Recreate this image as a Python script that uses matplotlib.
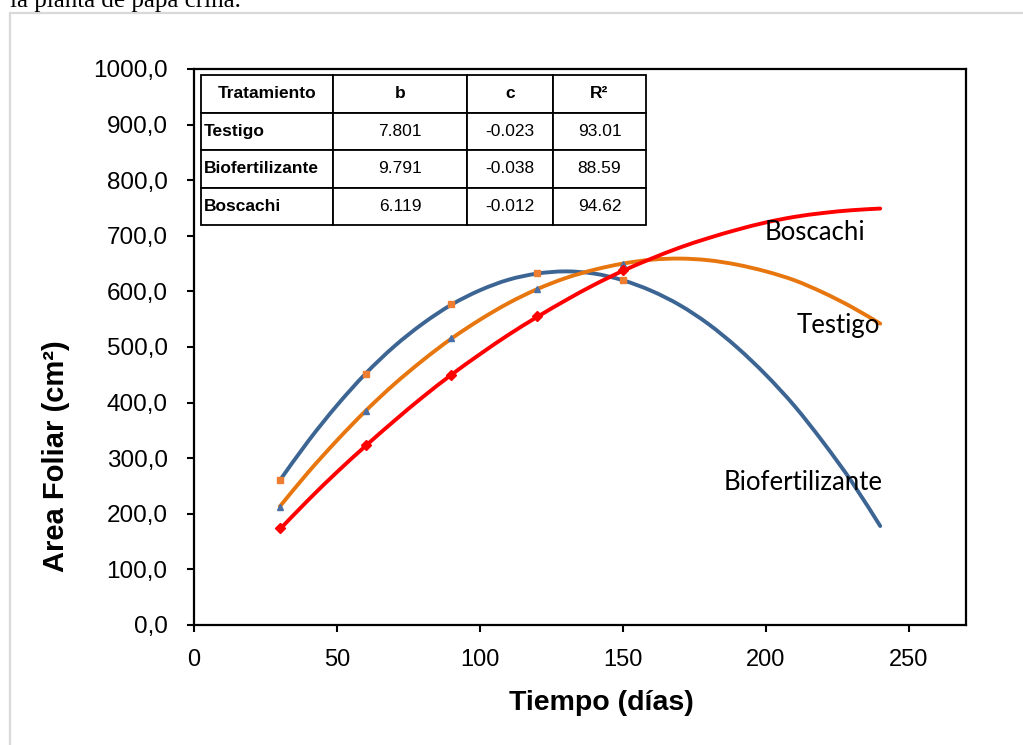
import matplotlib
matplotlib.use("Agg")
import matplotlib.pyplot as plt
from matplotlib import font_manager as fm
from matplotlib.patches import Rectangle, PathPatch
from matplotlib.path import Path

# ---------------- data ----------------
days_obs = [30, 60, 90, 120, 150]
testigo_obs = [213, 384, 516, 604, 649]
biofert_obs = [261, 452, 578, 633, 620]
boscachi_obs = [174, 323, 450, 555, 638]

days_fit = [30, 40, 50, 60, 70, 80, 90, 100, 110, 120, 130, 140, 150,
            160, 170, 180, 190, 200, 210, 220, 230, 240]
biofert_fit = [260, 331, 395, 452, 501, 542, 576, 602, 621, 632, 636, 632, 620,
               601, 575, 541, 499, 450, 394, 329, 258, 178]
testigo_fit = [213, 275, 332, 385, 433, 476, 515, 549, 579, 604, 624, 639, 650,
               657, 659, 656, 648, 636, 620, 598, 572, 542]
boscachi_fit = [172, 225, 275, 322, 367, 410, 450, 487, 522, 554, 584, 612, 637,
                659, 679, 696, 711, 724, 734, 741, 746, 749]

table_cols = ["Tratamiento", "b", "c", "R²"]
table_names = ["Testigo", "Biofertilizante", "Boscachi"]
table_b = ["7.801", "9.791", "6.119"]
table_c = ["-0.023", "-0.038", "-0.012"]
table_r2 = ["93.01", "88.59", "94.62"]

yticks = [0, 100, 200, 300, 400, 500, 600, 700, 800, 900, 1000]
xticks = [0, 50, 100, 150, 200, 250]

# ---------------- fonts ----------------
avail = {f.name for f in fm.fontManager.ttflist}
narrow = "Liberation Sans Narrow" if "Liberation Sans Narrow" in avail else "Liberation Sans"
sans = "Liberation Sans"
label_font = "Lato" if "Lato" in avail else "DejaVu Sans"
serif = "Liberation Serif"

W, H = 1023, 745
fig = plt.figure(figsize=(W / 100, H / 100), dpi=100)

# outer grey frame and cut-off document text
fig.patches.append(Rectangle((10 / W, -0.1), 1.2, 1 - 13 / H + 0.1,
                             transform=fig.transFigure, fill=False,
                             edgecolor="#D9D9D9", linewidth=1.6))
fig.text(10 / W, 1 - 7 / H, "la planta de papa criña.", family=serif,
         fontsize=18, va="baseline", ha="left", color="black")

ax = fig.add_axes([194 / W, (H - 625) / H, 772 / W, 556 / H])
ax.set_xlim(0, 270)
ax.set_ylim(0, 1000)

blue = "#3C6594"
orange = "#E8760F"
red = "#FF0000"


def smooth_line(ax, xs, ys, color, lw, z):
    """Draw a smoothed line (Catmull-Rom as cubic Bezier) through the data points."""
    pts = list(zip(xs, ys))
    verts = [pts[0]]
    codes = [Path.MOVETO]
    n = len(pts)
    for i in range(n - 1):
        p0 = pts[i - 1] if i > 0 else pts[i]
        p1 = pts[i]
        p2 = pts[i + 1]
        p3 = pts[i + 2] if i + 2 < n else pts[i + 1]
        c1 = (p1[0] + (p2[0] - p0[0]) / 6, p1[1] + (p2[1] - p0[1]) / 6)
        c2 = (p2[0] - (p3[0] - p1[0]) / 6, p2[1] - (p3[1] - p1[1]) / 6)
        verts += [c1, c2, p2]
        codes += [Path.CURVE4] * 3
    patch = PathPatch(Path(verts, codes), facecolor="none", edgecolor=color,
                      lw=lw, capstyle="round", joinstyle="round", zorder=z)
    ax.add_patch(patch)


smooth_line(ax, days_fit, biofert_fit, blue, 2.8, 3)
smooth_line(ax, days_fit, testigo_fit, orange, 2.8, 3)
smooth_line(ax, days_fit, boscachi_fit, red, 2.8, 4)

ax.plot(days_obs, biofert_obs, ls="none", marker="s", ms=4.5, color="#ED7D31", zorder=5)
ax.plot(days_obs, testigo_obs, ls="none", marker="^", ms=4.5, color="#4A6FA5", zorder=5)
ax.plot(days_obs, boscachi_obs, ls="none", marker="D", ms=5.5, color=red, zorder=5)

ax.set_xticks(xticks)
ax.set_xticklabels([str(v) for v in xticks], family=sans, fontsize=17)
ax.set_yticks(yticks)
ax.set_yticklabels([f"{v:.1f}".replace(".", ",") for v in yticks], family=sans, fontsize=17.5)
ax.tick_params(axis="x", direction="out", length=5, width=1.5, pad=12)
ax.tick_params(axis="y", direction="out", length=5, width=1.5, pad=14)
for s in ax.spines.values():
    s.set_linewidth(1.6)
    s.set_color("black")

fig.text(601 / W, 1 - 703 / H, "Tiempo (días)", family=sans, weight="bold",
         fontsize=20.5, ha="center", va="center")
fig.text(56 / W, 1 - 456 / H, "Area Foliar (cm²)", family=sans, weight="bold",
         fontsize=21, ha="center", va="center", rotation=90)


def px2data(px, py):
    return ((px - 194) / 772 * 270, (625 - py) / 556 * 1000)


for name, (px, py) in [("Boscachi", (815, 233)), ("Testigo", (838, 326)),
                       ("Biofertilizante", (803, 482))]:
    x, y = px2data(px, py)
    ax.text(x, y, name, family=label_font, fontsize=18.5, ha="center", va="center", zorder=6)

# parameter table
cell_text = [[n, b, c, r] for n, b, c, r in zip(table_names, table_b, table_c, table_r2)]
colw = [132, 134, 86, 93]
tot = sum(colw)
tbl = ax.table(cellText=cell_text, colLabels=table_cols,
               colWidths=[w / tot for w in colw],
               bbox=[(201 - 194) / 772, (625 - 225) / 556, 445 / 772, 150 / 556],
               cellLoc="center")
tbl.auto_set_font_size(False)
for (r, c), cell in tbl.get_celld().items():
    cell.set_linewidth(1.3)
    cell.set_edgecolor("black")
    cell.set_facecolor("white")
    t = cell.get_text()
    t.set_fontfamily(narrow)
    t.set_fontsize(12.5)
    if r == 0 or c == 0:
        t.set_fontweight("bold")
    if c == 0 and r > 0:
        cell.set_text_props(ha="left")
        cell.PAD = 0.02
tbl.set_zorder(7)

fig.savefig("out.png", dpi=100)
